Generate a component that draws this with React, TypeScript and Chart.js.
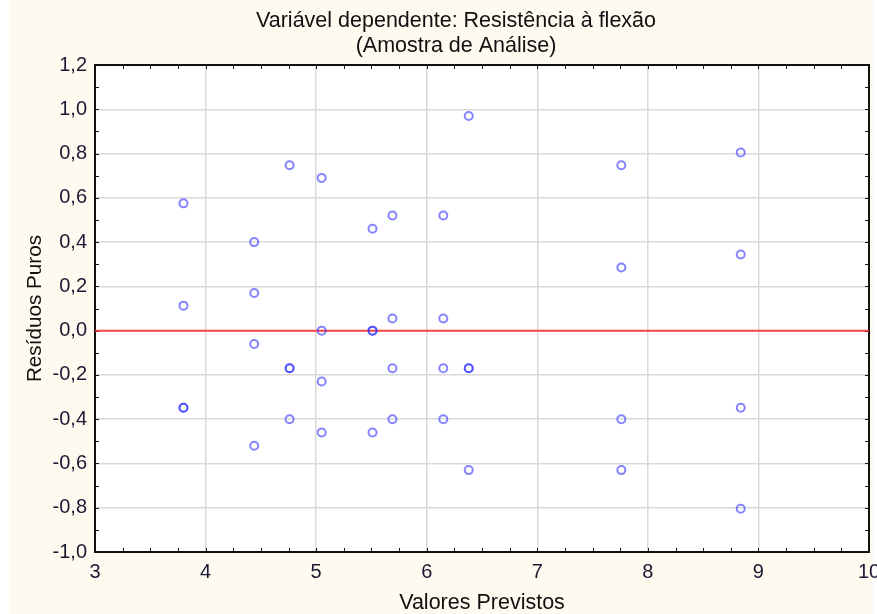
import React, { useEffect, useRef } from "react";
import { Chart, registerables } from "chart.js";

Chart.register(...registerables);

// Predicted values (x) and raw residuals (y), 4 replicates per group
const predicted = [
  3.8, 3.8, 3.8, 3.8,
  4.44, 4.44, 4.44, 4.44,
  4.76, 4.76, 4.76, 4.76,
  5.05, 5.05, 5.05, 5.05,
  5.51, 5.51, 5.51, 5.51,
  5.69, 5.69, 5.69, 5.69,
  6.15, 6.15, 6.15, 6.15,
  6.38, 6.38, 6.38, 6.38,
  7.76, 7.76, 7.76, 7.76,
  8.84, 8.84, 8.84, 8.84,
];
const residuals = [
  0.575, 0.113, -0.348, -0.348,
  0.4, 0.17, -0.06, -0.52,
  0.747, -0.17, -0.17, -0.4,
  0.69, 0.0, -0.23, -0.46,
  0.46, 0.0, 0.0, -0.46,
  0.52, 0.055, -0.17, -0.4,
  0.52, 0.055, -0.17, -0.4,
  0.97, -0.17, -0.17, -0.63,
  0.747, 0.285, -0.4, -0.63,
  0.805, 0.344, -0.348, -0.805,
];
const xRange = [3, 10];
const yRange = [-1.0, 1.2];
const zeroLineY = 0;
const titleLines = ["Variável dependente: Resistência à flexão", "(Amostra de Análise)"];
const xTitle = "Valores Previstos";
const yTitle = "Resíduos Puros";

const FONT = "'Liberation Sans', Arial, sans-serif";

const framePlugin = {
  id: "frame",
  beforeDraw(chart: any) {
    const { ctx, chartArea: a } = chart;
    ctx.save();
    ctx.fillStyle = "#fffaf0";
    ctx.fillRect(9, 0, 864, chart.height);
    ctx.fillStyle = "#ffffff";
    ctx.fillRect(a.left, a.top, a.right - a.left, a.bottom - a.top);
    ctx.restore();
  },
  beforeDatasetsDraw(chart: any) {
    const { ctx, chartArea: a, scales } = chart;
    const xs = scales.x;
    const ys = scales.y;
    ctx.save();
    ctx.strokeStyle = "#1a1a1a";
    ctx.lineWidth = 1;
    const tl = 4;
    ctx.beginPath();
    for (let v = xRange[0]; v <= xRange[1] + 1e-9; v += 0.25) {
      const px = Math.round(xs.getPixelForValue(v)) + 0.5;
      ctx.moveTo(px, a.bottom);
      ctx.lineTo(px, a.bottom - tl);
      ctx.moveTo(px, a.top);
      ctx.lineTo(px, a.top + tl);
    }
    for (let i = 0; i <= 22; i++) {
      const v = yRange[0] + i * 0.1;
      const py = Math.round(ys.getPixelForValue(v)) + 0.5;
      ctx.moveTo(a.left, py);
      ctx.lineTo(a.left + tl, py);
      ctx.moveTo(a.right, py);
      ctx.lineTo(a.right - tl, py);
    }
    ctx.stroke();
    ctx.lineWidth = 2;
    ctx.strokeStyle = "#111111";
    ctx.strokeRect(a.left, a.top, a.right - a.left, a.bottom - a.top);
    ctx.restore();
  },
};

export default function App() {
  const ref = useRef<HTMLCanvasElement | null>(null);
  useEffect(() => {
    document.body.style.margin = "0";
    document.body.style.overflow = "hidden";
    document.body.style.background = "#ffffff";
    const points = predicted.map((x, i) => ({ x, y: residuals[i] }));
    const chart = new Chart(ref.current as HTMLCanvasElement, {
      type: "scatter",
      data: {
        datasets: [
          {
            type: "line",
            data: [
              { x: xRange[0], y: zeroLineY },
              { x: xRange[1], y: zeroLineY },
            ],
            borderColor: "rgba(255,40,40,0.85)",
            borderWidth: 2,
            pointRadius: 0,
            order: 2,
          } as any,
          {
            data: points,
            pointRadius: 4,
            pointBorderWidth: 2,
            borderColor: "rgba(50,50,255,0.6)",
            backgroundColor: "rgba(0,0,0,0)",
            order: 1,
          },
        ],
      },
      plugins: [framePlugin],
      options: {
        responsive: false,
        animation: false,
        devicePixelRatio: 1,
        layout: { padding: { left: 43, right: 33, top: 0, bottom: 0 } },
        plugins: {
          legend: { display: false },
          tooltip: { enabled: false },
          title: {
            display: true,
            text: titleLines,
            color: "#111111",
            font: { family: FONT, size: 21.5, weight: "normal", lineHeight: 1.163 },
            padding: { top: 9, bottom: 6 },
          },
        },
        scales: {
          x: {
            type: "linear",
            min: xRange[0],
            max: xRange[1],
            afterFit: (s: any) => {
              s.height = 62;
            },
            ticks: {
              stepSize: 1,
              color: "#1a1a33",
              padding: 8,
              font: { family: FONT, size: 20 },
            },
            grid: { color: "#d9d9d9", lineWidth: 1.5, drawTicks: false },
            border: { display: false },
            title: {
              display: true,
              text: xTitle,
              color: "#111111",
              font: { family: FONT, size: 21.5, lineHeight: 1.0 },
              padding: { top: 0, bottom: 0 },
            },
          },
          y: {
            type: "linear",
            min: yRange[0],
            max: yRange[1],
            afterFit: (s: any) => {
              s.width = 52;
            },
            ticks: {
              stepSize: 0.2,
              color: "#1a1a33",
              padding: 8,
              font: { family: FONT, size: 20 },
              callback: (v: any) => Number(v).toFixed(1).replace(".", ","),
            },
            grid: { color: "#d9d9d9", lineWidth: 1.5, drawTicks: false },
            border: { display: false },
            title: {
              display: true,
              text: yTitle,
              color: "#111111",
              font: { family: FONT, size: 20.7, lineHeight: 1.2 },
              padding: { top: -20.4, bottom: 0 },
            },
          },
        },
      },
    });
    return () => chart.destroy();
  }, []);
  return <canvas ref={ref} width={902} height={614} style={{ display: "block", width: 902, height: 614 }} />;
}
